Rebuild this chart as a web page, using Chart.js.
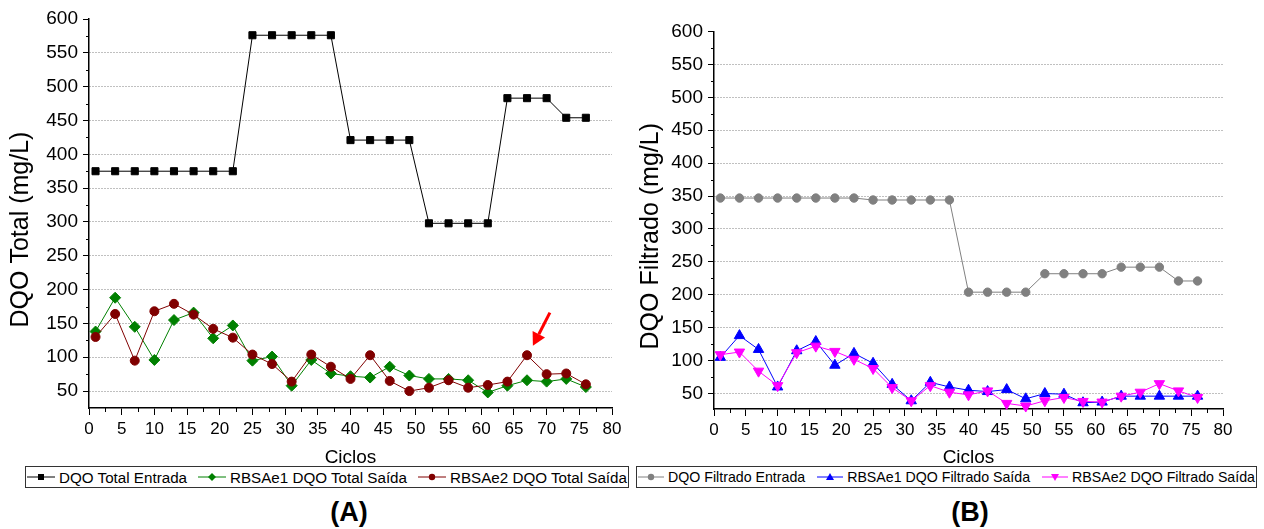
<!DOCTYPE html>
<html>
<head>
<meta charset="utf-8">
<script src="https://cdn.jsdelivr.net/npm/chart.js@4.4.1/dist/chart.umd.min.js"></script>
<style>
  html, body { margin: 0; padding: 0; background: #fff; }
  body { width: 1264px; height: 529px; position: relative; overflow: hidden;
         font-family: "Liberation Sans", Arial, sans-serif; color: #000; }
  .panel { position: absolute; top: 0; width: 632px; height: 529px; }
  .panel canvas { position: absolute; left: 0; top: 0; }
  .legend { position: absolute; top: 466px; height: 22px; box-sizing: border-box;
            border: 1px solid #333; display: flex; align-items: center;
            justify-content: space-between; padding: 0 1px;
            white-space: nowrap; background: #fff; }
  .item { display: flex; align-items: center; }
  .item svg { margin-right: 4px; }
  .tag { position: absolute; top: 496px; line-height: 32px; font-size: 27px;
         font-weight: bold; transform: translateX(-50%); }
</style>
</head>
<body>
<div class="panel" style="left:0">
  <canvas id="chartA" width="632" height="470"></canvas>
  <div class="legend" style="left:25px;width:604px;font-size:15.2px">
    <span class="item"><svg width="28" height="12"><line x1="0" y1="6" x2="28" y2="6" stroke="#000" stroke-width="1"/><rect x="11" y="3" width="6" height="6" fill="#000"/></svg>DQO Total Entrada</span>
    <span class="item"><svg width="28" height="12"><line x1="0" y1="6" x2="28" y2="6" stroke="#008000" stroke-width="1"/><polygon points="14,2 18,6 14,10 10,6" fill="#008000"/></svg>RBSAe1 DQO Total Saída</span>
    <span class="item"><svg width="28" height="12"><line x1="0" y1="6" x2="28" y2="6" stroke="#800000" stroke-width="1"/><circle cx="14" cy="6" r="3.2" fill="#800000"/></svg>RBSAe2 DQO Total Saída</span>
  </div>
  <div class="tag" style="left:349px">(A)</div>
</div>
<div class="panel" style="left:632px">
  <canvas id="chartB" width="632" height="470"></canvas>
  <div class="legend" style="left:4px;width:621px;font-size:14.2px">
    <span class="item"><svg width="26" height="12"><line x1="0" y1="6" x2="26" y2="6" stroke="#808080" stroke-width="1"/><circle cx="13" cy="6" r="3.2" fill="#808080"/></svg>DQO Filtrado Entrada</span>
    <span class="item"><svg width="26" height="12"><line x1="0" y1="6" x2="26" y2="6" stroke="#0000ff" stroke-width="1"/><polygon points="13,2 17,9 9,9" fill="#0000ff"/></svg>RBSAe1 DQO Filtrado Saída</span>
    <span class="item"><svg width="26" height="12"><line x1="0" y1="6" x2="26" y2="6" stroke="#ff00ff" stroke-width="1"/><polygon points="9,3 17,3 13,10" fill="#ff00ff"/></svg>RBSAe2 DQO Filtrado Saída</span>
  </div>
  <div class="tag" style="left:338px">(B)</div>
</div>

<script>
// Cycle numbers shared by every series
const ciclos = [1, 4, 7, 10, 13, 16, 19, 22, 25, 28, 31, 34, 37, 40, 43, 46, 49, 52, 55, 58, 61, 64, 67, 70, 73, 76];

// (A) total COD, mg/L
const dqoTotalEntrada = [375, 375, 375, 375, 375, 375, 375, 375, 576, 576, 576, 576, 576, 421, 421, 421, 421, 298, 298, 298, 298, 483, 483, 483, 454, 454];
const dqoTotalSaidaE1 = [138, 188, 145, 96, 155, 166, 128, 147, 95, 101, 58, 96, 76, 72, 70, 86, 73, 68, 68, 66, 48, 58, 66, 64, 68, 56];
const dqoTotalSaidaE2 = [130, 164, 95, 168, 179, 163, 142, 129, 104, 90, 64, 104, 86, 68, 103, 65, 50, 55, 66, 55, 59, 64, 103, 75, 76, 60];

// (B) filtered COD, mg/L
const dqoFiltEntrada = [347, 347, 347, 347, 347, 347, 347, 347, 344, 344, 344, 344, 344, 204, 204, 204, 204, 232, 232, 232, 232, 242, 242, 242, 221, 221];
const dqoFiltSaidaE1 = [105, 138, 117, 60, 115, 129, 93, 111, 96, 64, 39, 67, 60, 55, 53, 56, 42, 50, 49, 36, 37, 46, 46, 46, 46, 46];
const dqoFiltSaidaE2 = [109, 113, 84, 62, 112, 122, 114, 102, 88, 59, 39, 62, 52, 48, 54, 35, 31, 39, 44, 38, 37, 46, 52, 65, 54, 44];

// Axis tick values
const yTickValues = [50, 100, 150, 200, 250, 300, 350, 400, 450, 500, 550, 600];
const xTickValues = [0, 5, 10, 15, 20, 25, 30, 35, 40, 45, 50, 55, 60, 65, 70, 75, 80];

// Arrow pointing at the cycle-67 peak in (A): [tail, tip] as [ciclo, mg/L]
const arrowA = [[70.5, 166], [67.9, 117]];

const FONT = '"Liberation Sans", Arial, sans-serif';

function pts(values) {
  return values.map((v, i) => ({ x: ciclos[i], y: v }));
}

function series(values, color, style, radius, rotation) {
  return {
    data: pts(values),
    borderColor: color,
    backgroundColor: color,
    borderWidth: 1,
    tension: 0,
    pointStyle: style,
    pointRadius: radius,
    pointRotation: rotation || 0,
    pointBorderWidth: 1,
    pointBorderColor: color,
    pointBackgroundColor: color,
    clip: false
  };
}

// Small unlabelled ticks halfway between the labelled ones
const minorTicks = {
  id: 'minorTicks',
  afterDraw(chart) {
    const { ctx, scales: { x, y } } = chart;
    ctx.save();
    ctx.strokeStyle = '#000';
    ctx.lineWidth = 1;
    ctx.beginPath();
    for (let i = 0; i < xTickValues.length - 1; i++) {
      const v = (xTickValues[i] + xTickValues[i + 1]) / 2;
      const px = Math.round(x.getPixelForValue(v)) + 0.5;
      ctx.moveTo(px, x.top);
      ctx.lineTo(px, x.top + 4);
    }
    for (let i = 0; i < yTickValues.length - 1; i++) {
      const v = (yTickValues[i] + yTickValues[i + 1]) / 2;
      const py = Math.round(y.getPixelForValue(v)) + 0.5;
      ctx.moveTo(y.right, py);
      ctx.lineTo(y.right - 3, py);
    }
    ctx.stroke();
    ctx.restore();
  }
};

// Rotated y-axis title, set a little below the middle of the plot
function yTitlePlugin(text, cx) {
  return {
    id: 'yTitle',
    afterDraw(chart) {
      const { ctx, chartArea } = chart;
      const cy = (chartArea.top + chartArea.bottom) / 2 + 16;
      ctx.save();
      ctx.translate(cx, cy);
      ctx.rotate(-Math.PI / 2);
      ctx.font = '25px ' + FONT;
      ctx.fillStyle = '#000';
      ctx.textAlign = 'center';
      ctx.textBaseline = 'middle';
      ctx.fillText(text, 0, 0);
      ctx.restore();
    }
  };
}

// Red arrow annotation
function arrowPlugin(arrow) {
  return {
    id: 'arrow',
    afterDatasetsDraw(chart) {
      if (!arrow) return;
      const { ctx, scales: { x, y } } = chart;
      const x1 = x.getPixelForValue(arrow[0][0]), y1 = y.getPixelForValue(arrow[0][1]);
      const x2 = x.getPixelForValue(arrow[1][0]), y2 = y.getPixelForValue(arrow[1][1]);
      const ang = Math.atan2(y2 - y1, x2 - x1);
      const headLen = 13, headHalf = 7;
      const bx = x2 - Math.cos(ang) * headLen, by = y2 - Math.sin(ang) * headLen;
      ctx.save();
      ctx.strokeStyle = '#ff0000';
      ctx.fillStyle = '#ff0000';
      ctx.lineWidth = 3;
      ctx.beginPath();
      ctx.moveTo(x1, y1);
      ctx.lineTo(bx, by);
      ctx.stroke();
      ctx.beginPath();
      ctx.moveTo(x2, y2);
      ctx.lineTo(bx + Math.sin(ang) * headHalf, by - Math.cos(ang) * headHalf);
      ctx.lineTo(bx - Math.sin(ang) * headHalf, by + Math.cos(ang) * headHalf);
      ctx.closePath();
      ctx.fill();
      ctx.restore();
    }
  };
}

function buildChart(id, o) {
  return new Chart(document.getElementById(id), {
    type: 'line',
    data: { datasets: o.datasets },
    options: {
      responsive: false,
      animation: false,
      events: [],
      layout: { padding: { left: 0, right: o.padRight, top: o.padTop, bottom: 0 } },
      plugins: { legend: { display: false }, tooltip: { enabled: false }, title: { display: false } },
      scales: {
        x: {
          type: 'linear',
          min: 0,
          max: 80,
          afterFit: s => { s.height = o.xHeight; },
          afterBuildTicks: s => { s.ticks = xTickValues.map(v => ({ value: v })); },
          ticks: { font: { size: 17, family: FONT }, color: '#000', padding: 4, maxRotation: 0, autoSkip: false },
          grid: { drawOnChartArea: false, tickLength: 7, tickColor: '#000', tickWidth: 1 },
          border: { display: true, color: '#000', width: 1.5 },
          title: { display: true, text: 'Ciclos', font: { size: 19, family: FONT }, color: '#000', padding: { top: 0, bottom: 1 } }
        },
        y: {
          type: 'linear',
          min: o.yMin,
          max: 600,
          afterFit: s => { s.width = o.yWidth; },
          afterBuildTicks: s => { s.ticks = yTickValues.map(v => ({ value: v })); },
          ticks: { font: { size: 19, family: FONT }, color: '#000', padding: 5 },
          grid: {
            color: c => (c.tick && c.tick.value === 600) ? 'rgba(0,0,0,0)' : '#808080',
            lineWidth: 1,
            tickColor: '#000',
            tickLength: 6,
            tickWidth: 1,
            tickBorderDash: []
          },
          border: { display: true, color: '#000', width: 1.5, dash: [1, 2] },
          title: { display: false }
        }
      }
    },
    plugins: [minorTicks, yTitlePlugin(o.yTitle, o.titleX), arrowPlugin(o.arrow)]
  });
}

buildChart('chartA', {
  yTitle: 'DQO Total (mg/L)',
  titleX: 21,
  yMin: 25,
  padTop: 19,
  padRight: 20,
  yWidth: 89,
  xHeight: 62,
  arrow: arrowA,
  datasets: [
    series(dqoTotalEntrada, '#000000', 'rect', 5),
    series(dqoTotalSaidaE2, '#800000', 'circle', 4.5),
    series(dqoTotalSaidaE1, '#008000', 'rectRot', 5.5)
  ]
});

buildChart('chartB', {
  yTitle: 'DQO Filtrado (mg/L)',
  titleX: 19,
  yMin: 26.5,
  padTop: 31.5,
  padRight: 41,
  yWidth: 82,
  xHeight: 61,
  arrow: null,
  datasets: [
    series(dqoFiltEntrada, '#808080', 'circle', 4.2),
    series(dqoFiltSaidaE2, '#ff00ff', 'triangle', 6, 180),
    series(dqoFiltSaidaE1, '#0000ff', 'triangle', 6)
  ]
});
</script>
</body>
</html>
